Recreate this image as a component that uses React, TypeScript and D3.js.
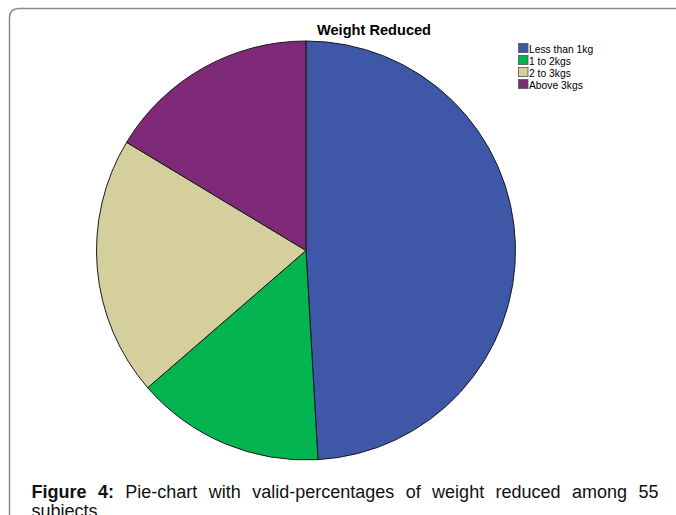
import React, { useMemo } from "react";
import * as d3 from "d3";

const categories = ["Less than 1kg", "1 to 2kgs", "2 to 3kgs", "Above 3kgs"];
const counts = [27, 8, 11, 9];
const colors = ["#3f57a7", "#03b451", "#d4cf9d", "#7e2977"];
const title = "Weight Reduced";
const captionWords = ["Figure", "4:", "Pie-chart", "with", "valid-percentages", "of", "weight", "reduced", "among", "55"];
const captionBoldCount = 2;
const captionLine2 = "subjects";

const font = "Liberation Sans, Arial, sans-serif";

export default function App() {
  const W = 676, H = 515;
  const cx = 306, cy = 250.5, r = 209.5;
  const pie = d3.pie<number>().sort(null).value((d) => d);
  const arcs = pie(counts);
  const arc = d3.arc<d3.PieArcDatum<number>>().innerRadius(0).outerRadius(r);

  const capSize = 18;
  const left = 31.5, right = 658.5;
  const wordX = useMemo(() => {
    const ctx = document.createElement("canvas").getContext("2d");
    const widths = captionWords.map((w, i) => {
      if (!ctx) return w.length * capSize * 0.5;
      ctx.font = `${i < captionBoldCount ? "bold " : ""}${capSize}px "Liberation Sans", Arial, sans-serif`;
      return ctx.measureText(w).width;
    });
    const total = d3.sum(widths);
    const gap = (right - left - total) / (captionWords.length - 1);
    const xs: number[] = [];
    let x = left;
    widths.forEach((w) => { xs.push(x); x += w + gap; });
    return xs;
  }, []);

  return (
    <svg width={W} height={H} style={{ position: "fixed", left: 0, top: 0 }}>
      <rect x={0} y={0} width={W} height={H} fill="#fff" />
      <path d={`M9.5,${H + 10} V18 Q9.5,8.5 19,8.5 H${W + 10}`} fill="none" stroke="#8a8a8a" strokeWidth={1.5} />
      <text x={374} y={35} textAnchor="middle" fontFamily={font} fontWeight="bold" fontSize={14.6} fill="#000">{title}</text>
      <g transform={`translate(${cx},${cy})`}>
        {arcs.map((a, i) => (
          <path key={i} d={arc(a) || ""} fill={colors[i]} stroke="#1a1a1a" strokeWidth={1} />
        ))}
      </g>
      <g fontFamily={font} fontSize={10.3}>
        {categories.map((c, i) => (
          <g key={c} transform={`translate(518.5,${43.5 + i * 12})`}>
            <rect x={0} y={0} width={9.5} height={9} fill={colors[i]} stroke="#555" strokeWidth={0.8} />
            <text x={10.5} y={9.6} fill="#000">{c}</text>
          </g>
        ))}
      </g>
      <g fontFamily={font} fontSize={capSize} fill="#111">
        {captionWords.map((w, i) => (
          <text key={i} x={wordX[i]} y={498} fontWeight={i < captionBoldCount ? "bold" : "normal"}>{w}</text>
        ))}
        <text x={left} y={516.5}>{captionLine2}</text>
      </g>
    </svg>
  );
}
